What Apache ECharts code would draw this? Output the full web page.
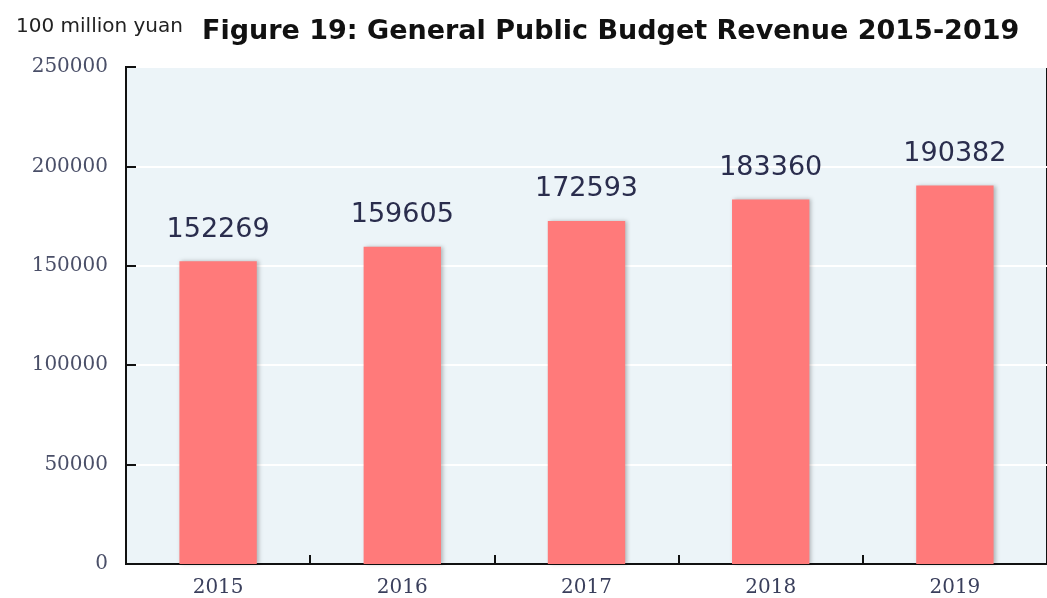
<!DOCTYPE html>
<html><head><meta charset="utf-8">
<script src="https://cdn.jsdelivr.net/npm/echarts@6/dist/echarts.min.js"></script>
<style>html,body{margin:0;padding:0;background:#fff}#c{width:1047px;height:598px}</style>
</head><body><div id="c"></div>
<script>
var categories = ['2015','2016','2017','2018','2019'];
var revenue = [152269, 159605, 172593, 183360, 190382];
var yTicks = [0, 50000, 100000, 150000, 200000, 250000];

var chart = echarts.init(document.getElementById('c'));
chart.setOption({
  animation: false,
  title: [
    {text: 'Figure 19: General Public Budget Revenue 2015-2019', left: 197, top: 13,
     textStyle: {fontFamily: 'DejaVu Sans', fontWeight: 'bold', fontSize: 27, color: '#111'}},
    {text: '100 million yuan', left: 11, top: 12,
     textStyle: {fontFamily: 'DejaVu Sans', fontWeight: 'normal', fontSize: 20, color: '#222'}}
  ],
  grid: {left: 126, right: 0, top: 67, bottom: 34, show: true,
         backgroundColor: '#ecf4f8', borderColor: '#111', borderWidth: 2},
  xAxis: {type: 'category', data: categories,
    axisLine: {lineStyle: {color: '#111', width: 2}},
    axisTick: {show: true, inside: true, length: 9, lineStyle: {color: '#111', width: 2}},
    axisLabel: {fontFamily: 'DejaVu Serif', fontSize: 20, color: '#3a3f5c', margin: 14}},
  yAxis: {type: 'value', min: yTicks[0], max: yTicks[yTicks.length-1], interval: 50000,
    axisLine: {show: true, lineStyle: {color: '#111', width: 2}},
    axisTick: {show: true, inside: true, length: 10, lineStyle: {color: '#111', width: 2}},
    splitLine: {lineStyle: {color: '#ffffff', width: 2}},
    axisLabel: {fontFamily: 'DejaVu Serif', fontSize: 20, color: '#4a4f68', margin: 18,
      formatter: function (v) { return String(v); }}},
  series: [{
    type: 'bar', data: revenue, barWidth: '42%',
    itemStyle: {color: '#ff7a7a', shadowColor: 'rgba(0,0,0,0.25)', shadowBlur: 4, shadowOffsetX: 2},
    label: {show: true, position: 'top', distance: 18, fontFamily: 'DejaVu Sans', fontSize: 27, color: '#2a2d4d'}
  }]
});
</script></body></html>
